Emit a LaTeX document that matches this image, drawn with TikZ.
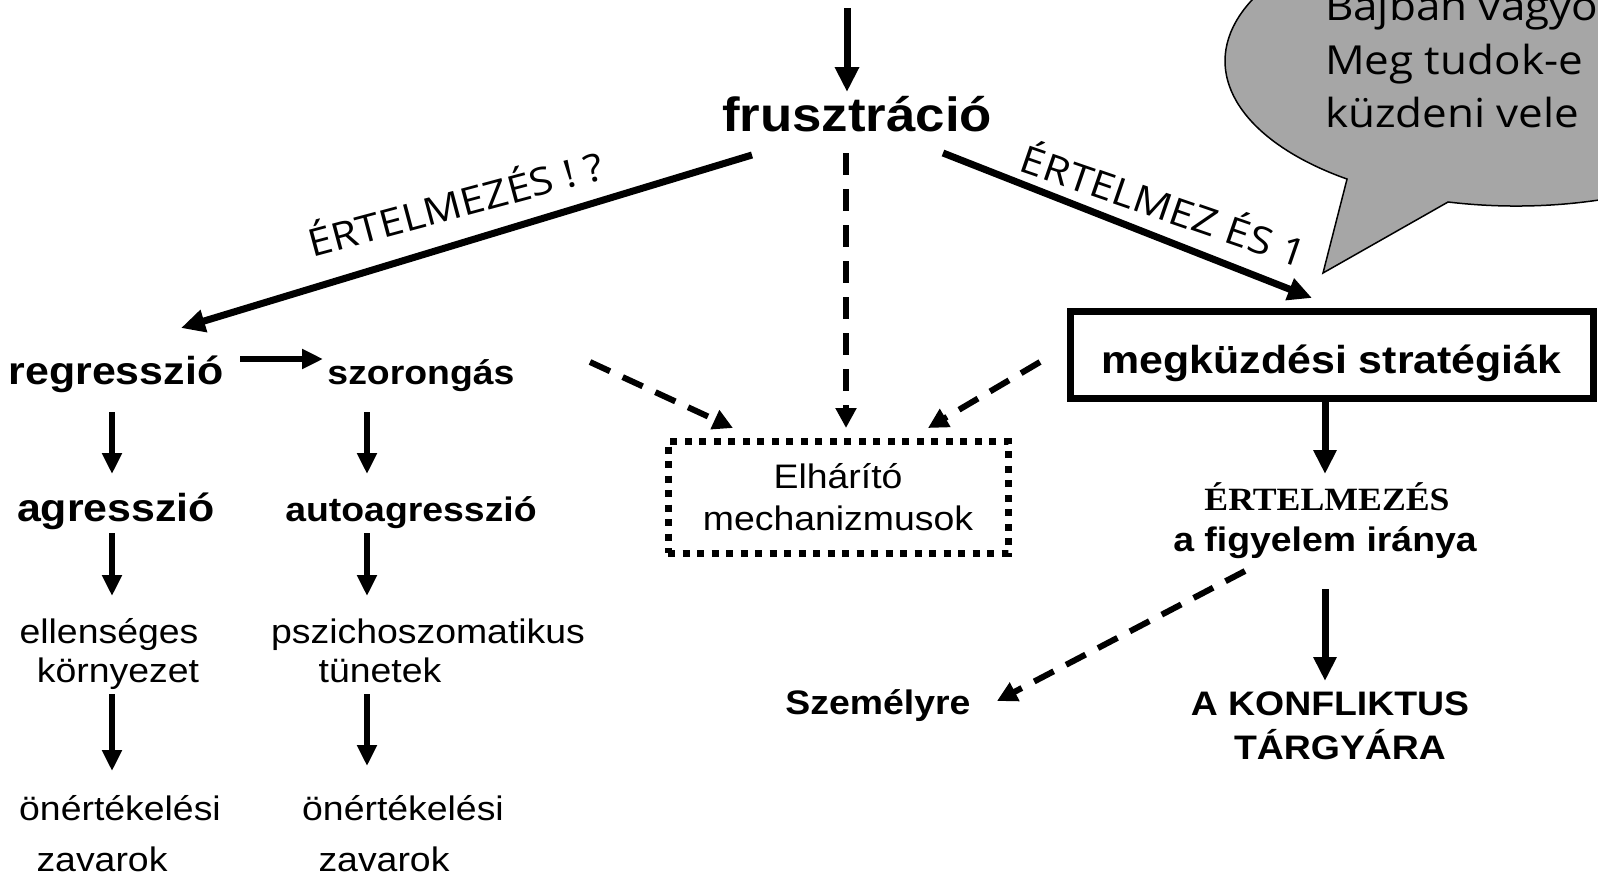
\documentclass[tikz,border=0pt]{standalone}
\usepackage{fontspec}
\setmainfont{Liberation Sans}[FakeStretch=1.1]
\newfontfamily\serifbf{Liberation Serif}[FakeStretch=1.1]
\newfontfamily\lblfont{Open Sans}[FakeStretch=1.12]
\newfontfamily\bubfont{Open Sans}[FakeStretch=1.1]
\usetikzlibrary{arrows.meta,calc}
\definecolor{bubblegray}{HTML}{A6A6A6}
\tikzset{
 txt/.style={inner sep=0pt, outer sep=0pt, anchor=base},
 hugetext/.style={txt, font=\fontsize{48}{56}\selectfont\bfseries},
 bigtext/.style={txt, font=\fontsize{39}{46}\selectfont\bfseries},
 medtext/.style={txt, font=\fontsize{34}{40}\selectfont\bfseries},
 plaintext/.style={txt, font=\fontsize{34}{40}\selectfont},
 serftext/.style={txt, font=\serifbf\bfseries\fontsize{32.5}{38}\selectfont},
 slanttext/.style={inner sep=0pt, font=\lblfont\fontsize{38}{44}\selectfont},
 bubtext/.style={txt, anchor=base west, font=\bubfont\fontsize{40}{46}\selectfont},
 thickarr/.style={line width=7pt, -{Triangle[length=24pt,width=22pt]}},
 colarr/.style={line width=6pt, -{Triangle[length=21pt,width=19pt]}},
 toparr/.style={line width=7pt, -{Triangle[length=25pt,width=23pt]}},
 dasharr/.style={line width=6pt, dash pattern=on 22pt off 14pt, -{Triangle[length=20pt,width=20pt]}},
}
\begin{document}
\begin{tikzpicture}[x=1pt,y=-1pt]
\useasboundingbox (0,0) rectangle (1598,876);
\clip (0,0) rectangle (1598,876);
\fill[white] (0,0) rectangle (1598,876);

\node[hugetext] (frusz) at (857,131) {frusztráció};
\node[bigtext] (reg) at (116,384) {regresszió};
\node[medtext] (szor) at (421,384) {szorongás};
\node[bigtext] (agr) at (116,521) {agresszió};
\node[medtext] (auto) at (411,521) {autoagresszió};
\node[plaintext] (ell1) at (109,643) {ellenséges};
\node[plaintext] (ell2) at (118,682) {környezet};
\node[plaintext] (psz1) at (428,643) {pszichoszomatikus};
\node[plaintext] (psz2) at (380,682) {tünetek};
\node[plaintext] (on1) at (120,820) {önértékelési};
\node[plaintext] (zav1) at (102,871) {zavarok};
\node[plaintext] (on2) at (403,820) {önértékelési};
\node[plaintext] (zav2) at (384,871) {zavarok};
\node[draw, line width=7pt, dash pattern=on 7pt off 7.5pt, minimum width=340pt, minimum height=112pt,
      inner sep=0pt, outer sep=0pt, align=center, font=\fontsize{34}{42}\selectfont] (elh) at (838,497) {Elhárító\\mechanizmusok};
\node[draw, line width=7pt, minimum width=523pt, minimum height=87pt, inner sep=0pt, outer sep=0pt,
      text height=37pt, text depth=0pt,
      font=\fontsize{39}{46}\selectfont\bfseries] (meg) at (1331.5,354.5) {megküzdési stratégiák};
\node[serftext] (ert) at (1327,510) {ÉRTELMEZÉS};
\node[medtext] (fig) at (1325,551) {a figyelem iránya};
\node[medtext] (szem) at (878,714) {Személyre};
\node[medtext] (konf1) at (1330,715) {A KONFLIKTUS};
\node[medtext] (konf2) at (1340,759) {TÁRGYÁRA};

\node[slanttext, rotate=15] (lblL) at (455,201) {ÉRTELMEZÉS ! ?};
\node[slanttext, rotate=-19] (lblR) at (1165,203) {ÉRTELMEZ ÉS 1};

\coordinate (src) at (847,8);
\draw[toparr] (src) -- ($(frusz.base)+(-10,-39)$);
\draw[thickarr] ($(frusz.base)+(-105,24)$) -- ($(reg.base)+(65,-56)$);
\draw[thickarr] ($(frusz.base)+(86,22)$) -- ($(meg.north)+(-19.5,-13)$);
\draw[dasharr] ($(frusz.base)+(-11,22)$) -- ($(elh.north)+(8,-13)$);
\draw[dasharr] ($(szor.base)+(169,-22)$) -- ($(elh.north)+(-105,-13)$);
\draw[dasharr] ($(meg.west)+(-30,7.5)$) -- ($(elh.north)+(90,-13)$);
\draw[colarr] ($(reg.base)+(124,-25)$) -- ($(szor.base)+(-98,-25)$);
\draw[colarr] ($(reg.base)+(-4,28)$) -- ($(agr.base)+(-4,-47)$);
\draw[colarr] ($(szor.base)+(-54,28)$) -- ($(auto.base)+(-44,-47)$);
\draw[colarr] ($(agr.base)+(-4,12)$) -- ($(ell1.base)+(3,-47)$);
\draw[colarr] ($(auto.base)+(-44,12)$) -- ($(psz1.base)+(-61,-47)$);
\draw[colarr] ($(ell2.base)+(-6,12)$) -- ($(on1.base)+(-8,-49)$);
\draw[colarr] ($(psz2.base)+(-13,12)$) -- ($(on2.base)+(-36,-54)$);
\draw[thickarr] ($(meg.south)+(-6.5,0)$) -- ($(ert.base)+(-2,-36)$);
\draw[thickarr] ($(fig.base)+(0,38)$) -- ($(konf1.base)+(-5,-34)$);
\draw[dasharr] ($(fig.base)+(-80,20)$) -- ($(szem.base)+(119,-13)$);

\draw[fill=bubblegray, line width=1.5pt] (1516,61) ++(103.5:291 and 145)
  arc[start angle=103.5, end angle=-234.5, x radius=291, y radius=145] -- (1323,273) -- cycle;
\node[bubtext] (bub1) at (1325,20) {Bajban vagyok};
\node[bubtext] (bub2) at (1325,74) {Meg tudok-e};
\node[bubtext] (bub3) at (1325,127) {küzdeni vele};
\end{tikzpicture}
\end{document}
